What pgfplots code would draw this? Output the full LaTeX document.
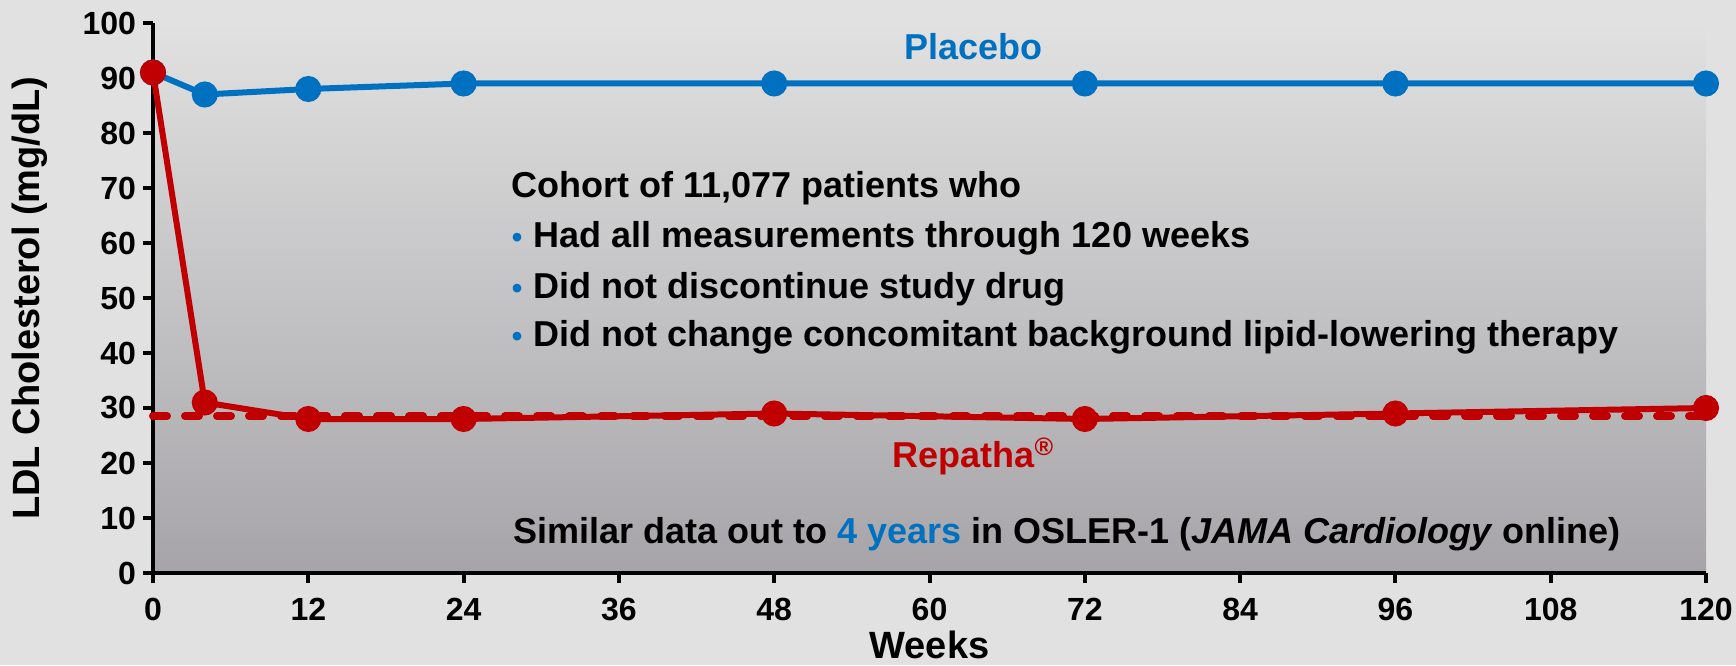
\documentclass[border=0pt]{standalone}
\usepackage{fontspec}
\setmainfont{Liberation Sans}
\usepackage{pgfplots}
\pgfplotsset{compat=1.18}
\definecolor{bgc}{RGB}{225,225,225}
\definecolor{pbot}{RGB}{166,164,168}
\definecolor{pblue}{RGB}{0,112,192}
\definecolor{pred}{RGB}{192,0,0}
\begin{document}
\begin{tikzpicture}
\fill[bgc] (-76.5pt,-46pt) rectangle (791.5pt,286.5pt);
\begin{axis}[
  at={(0,0)}, anchor=south west,
  scale only axis, width=776.5pt, height=275pt,
  xmin=0, xmax=120, ymin=0, ymax=100,
  axis lines=left, axis line style={-, line width=2pt, black},
  xtick={0,12,...,120}, ytick={0,10,...,100},
  tick align=outside, major tick length=5pt,
  tick style={line width=2pt, black},
  tick label style={font=\fontsize{16}{18}\selectfont\bfseries},
  xticklabel style={yshift=-4pt},
  /pgf/number format/assume math mode=true,
  axis background/.style={top color=bgc, bottom color=pbot},
  xlabel={Weeks}, ylabel={LDL Cholesterol (mg/dL)},
  label style={font=\fontsize{19}{21}\selectfont\bfseries},
  xlabel style={at={(axis description cs:0.5,-0.104)}, anchor=north, inner sep=0pt},
  ylabel style={at={(axis description cs:-0.0908,0.5)}, anchor=north, inner sep=0pt},
  clip=false,
]
\addplot[pred, line width=4pt, dash pattern=on 7pt off 9pt, line cap=round] coordinates {(0,28.5) (120,28.5)};
\addplot[pblue, line width=3pt, mark=*, mark size=5pt, mark options={solid}] coordinates {
(0,91) (4,87) (12,88) (24,89) (48,89) (72,89) (96,89) (120,89)};
\addplot[pred, line width=3pt, mark=*, mark size=5pt, mark options={solid}] coordinates {
(0,91) (4,31) (12,28) (24,28) (48,29) (72,28) (96,29) (120,30)};
\node[pblue, font=\fontsize{18}{20}\selectfont\bfseries, anchor=base] at (axis cs:63.4,93.3) {Placebo};
\node[pred, font=\fontsize{18}{20}\selectfont\bfseries, anchor=base] at (axis cs:63.4,19.1) {Repatha\textsuperscript{®}};
\node[font=\fontsize{18}{20}\selectfont\bfseries, anchor=base west, inner sep=0pt] at (axis cs:27.7,68.2) {Cohort of 11,077 patients who};
\node[font=\fontsize{18}{20}\selectfont\bfseries, anchor=base west, inner sep=0pt] at (axis cs:27.7,59.1) {\makebox[11pt][l]{\color{pblue}\fontsize{15}{15}\selectfont•}Had all measurements through 120 weeks};
\node[font=\fontsize{18}{20}\selectfont\bfseries, anchor=base west, inner sep=0pt] at (axis cs:27.7,50) {\makebox[11pt][l]{\color{pblue}\fontsize{15}{15}\selectfont•}Did not discontinue study drug};
\node[font=\fontsize{18}{20}\selectfont\bfseries, anchor=base west, inner sep=0pt] at (axis cs:27.7,41.1) {\makebox[11pt][l]{\color{pblue}\fontsize{15}{15}\selectfont•}Did not change concomitant background lipid-lowering therapy};
\node[font=\fontsize{18}{20}\selectfont\bfseries, anchor=base west, inner sep=0pt] at (axis cs:27.8,5.45) {Similar data out to {\color{pblue}4 years} in OSLER-1 (\textit{JAMA Cardiology} online)};
\end{axis}
\pgfresetboundingbox
\path (-76.5pt,-46pt) rectangle (791.5pt,286.5pt);
\end{tikzpicture}
\end{document}
